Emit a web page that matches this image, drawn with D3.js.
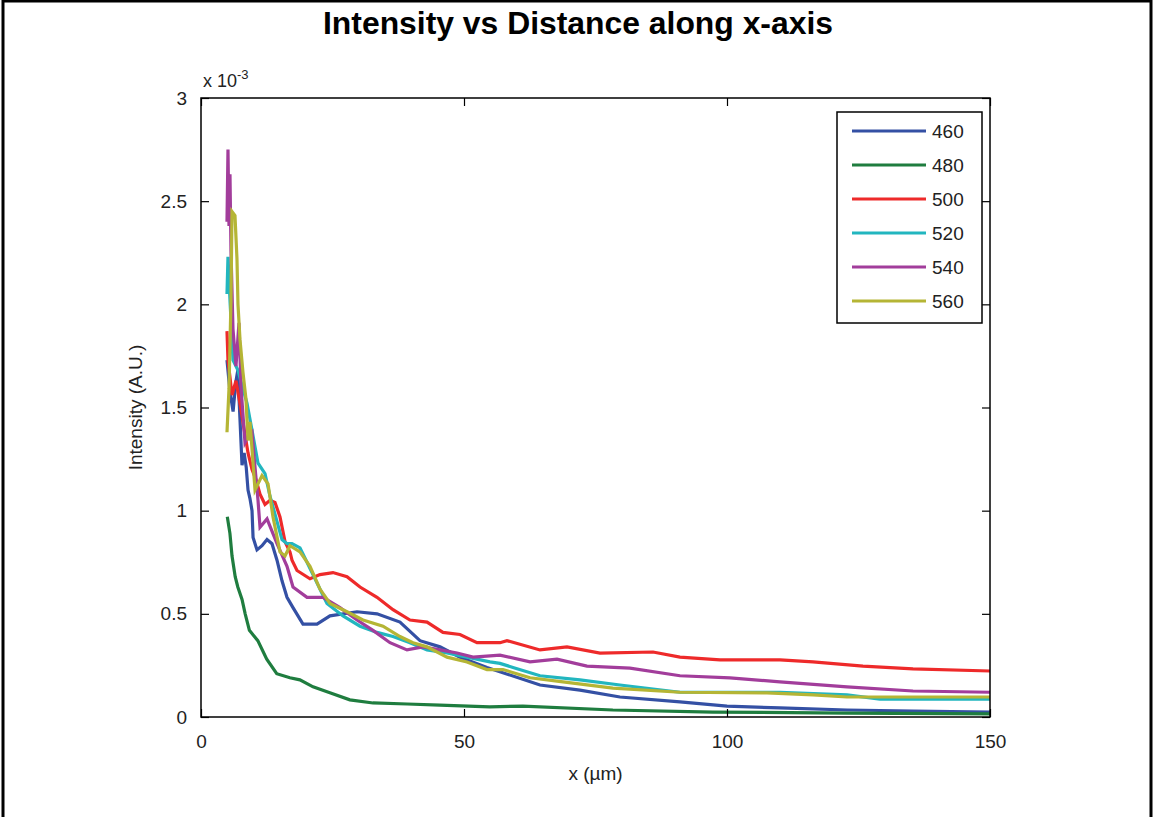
<!DOCTYPE html>
<html>
<head>
<meta charset="utf-8">
<script src="https://cdn.jsdelivr.net/npm/d3@7"></script>
<style>
  body { margin: 0; background: #fff; }
  svg { display: block; font-family: "Liberation Sans", Arial, sans-serif; }
</style>
</head>
<body>
<div id="chart"></div>
<script>
// Intensity values are in units of 1e-3 (A.U.), x in micrometres
var s460 = [[4.94,1.73],[5.5,1.58],[6.1,1.48],[6.6,1.62],[7.0,1.68],[7.4,1.45],[7.8,1.22],[8.2,1.28],[8.6,1.21],
  [8.94,1.10],[9.3,1.06],[9.7,1.00],[9.9,0.87],[10.65,0.81],[11.6,0.83],[12.55,0.86],[13.5,0.84],[14.45,0.76],
  [15.4,0.66],[16.35,0.58],[17.49,0.53],[19.39,0.45],[22.05,0.45],[24.52,0.49],[29.66,0.51],[33.46,0.50],
  [37.83,0.46],[41.63,0.37],[45.44,0.34],[49.24,0.29],[54.37,0.24],[64.45,0.155],[72.05,0.13],[79.65,0.097],
  [91.06,0.073],[100,0.053],[110.07,0.044],[122.81,0.034],[135.36,0.029],[150,0.024]];

var s480 = [[5.0,0.97],[5.5,0.89],[5.9,0.78],[6.5,0.68],[7.0,0.63],[7.8,0.57],[8.4,0.50],[9.2,0.42],[10.8,0.37],
  [12.5,0.28],[14.4,0.21],[16.9,0.19],[18.8,0.18],[21.3,0.146],[24.5,0.117],[28.3,0.083],[32.7,0.068],
  [39.2,0.063],[45.4,0.058],[54.9,0.049],[61.2,0.053],[78.3,0.034],[97.3,0.024],[122.8,0.019],[150,0.015]];

var s500 = [[4.94,1.87],[5.13,1.73],[5.9,1.56],[6.65,1.63],[7.41,1.52],[8.17,1.40],[8.94,1.28],[9.7,1.20],
  [10.46,1.15],[11.22,1.08],[12.17,1.03],[13.12,1.05],[14.07,1.04],[15.02,0.97],[15.97,0.85],[16.92,0.80],
  [17.3,0.76],[18.25,0.71],[20.72,0.67],[22.62,0.69],[25.09,0.70],[27.76,0.68],[30.23,0.63],[33.46,0.58],
  [36.5,0.52],[39.73,0.47],[42.97,0.46],[46.0,0.41],[49.24,0.40],[52.47,0.36],[56.84,0.36],[58.17,0.37],
  [64.45,0.325],[69.58,0.34],[75.85,0.31],[85.93,0.315],[91.06,0.29],[98.67,0.277],[110.07,0.277],
  [116.35,0.267],[125.85,0.247],[135.36,0.233],[150,0.223]];

var s520 = [[4.94,2.05],[5.13,2.23],[5.51,2.02],[6.08,1.73],[7.03,1.68],[7.98,1.59],[8.75,1.52],[9.7,1.39],
  [10.84,1.23],[12.17,1.18],[13.12,1.07],[15.40,0.86],[16.35,0.84],[17.30,0.84],[18.82,0.82],[19.2,0.80],
  [21.1,0.70],[23.0,0.60],[23.95,0.55],[27.0,0.49],[30.23,0.44],[33.46,0.41],[36.5,0.39],[39.73,0.36],
  [42.97,0.325],[46.77,0.31],[50.57,0.29],[54.94,0.267],[56.84,0.26],[59.31,0.24],[64.45,0.20],[72.05,0.18],
  [79.65,0.155],[91.06,0.12],[110.07,0.12],[122.81,0.107],[129.08,0.087],[150,0.087]];

var s540 = [[4.94,2.40],[5.13,2.75],[5.32,2.38],[5.51,2.63],[5.70,2.26],[6.08,1.88],[6.65,1.70],[7.22,1.91],
  [7.60,1.60],[8.36,1.33],[8.94,1.36],[9.70,1.38],[10.27,1.21],[10.84,1.05],[11.22,0.92],[12.55,0.96],
  [14.45,0.84],[16.35,0.73],[17.49,0.63],[20.15,0.58],[23.19,0.58],[26.43,0.53],[29.66,0.47],[32.70,0.42],
  [35.93,0.36],[39.16,0.325],[42.2,0.34],[45.44,0.325],[48.67,0.31],[51.71,0.29],[54.94,0.296],[56.84,0.30],
  [62.55,0.267],[67.68,0.28],[73.38,0.247],[81.55,0.237],[91.06,0.20],[100.57,0.19],[110.07,0.17],
  [122.81,0.146],[135.36,0.126],[150,0.12]];

var s560 = [[4.94,1.38],[5.32,1.59],[5.70,2.02],[5.89,2.45],[6.46,2.43],[6.84,2.22],[7.03,2.00],[7.41,1.83],
  [7.98,1.67],[8.55,1.54],[8.94,1.34],[9.32,1.43],[10.27,1.10],[11.60,1.17],[12.74,1.13],[13.69,0.97],
  [15.02,0.80],[15.97,0.78],[16.92,0.83],[18.82,0.80],[20.72,0.73],[22.62,0.62],[24.52,0.55],[27.76,0.51],
  [30.80,0.47],[34.60,0.44],[37.83,0.39],[40.30,0.36],[42.97,0.34],[46.77,0.29],[50.57,0.267],[54.37,0.23],
  [57.41,0.23],[62.55,0.19],[68.82,0.17],[78.32,0.14],[91.06,0.12],[107.6,0.117],[116.35,0.107],
  [122.81,0.097],[150,0.097]];

var seriesNames = ["460", "480", "500", "520", "540", "560"];
var seriesData = [s460, s480, s500, s520, s540, s560];
var seriesColors = ["#3450a4", "#1f7d3f", "#ee2a2a", "#22b6bf", "#a23d9b", "#b5b535"];

var xTicks = [0, 50, 100, 150];
var yTicks = [0, 0.5, 1, 1.5, 2, 2.5, 3];

var W = 1155, H = 817;
var margin = { top: 98, right: 165, bottom: 100, left: 201 };
var width = 990 - margin.left, height = 717 - margin.top;

var svg = d3.select("#chart").append("svg")
    .attr("width", W)
    .attr("height", H);

// outer frame (cut off at the bottom)
svg.append("rect")
    .attr("x", 3).attr("y", 1)
    .attr("width", 1148).attr("height", H + 20)
    .attr("fill", "none").attr("stroke", "#000").attr("stroke-width", 3);

// title, a bit condensed like the original
svg.append("text")
    .attr("x", 578).attr("y", 34)
    .attr("text-anchor", "middle")
    .attr("textLength", 510).attr("lengthAdjust", "spacingAndGlyphs")
    .style("font-size", "31px").style("font-weight", "bold")
    .text("Intensity vs Distance along x-axis");

var g = svg.append("g")
    .attr("transform", "translate(" + margin.left + "," + margin.top + ")");

var x = d3.scaleLinear().domain([0, 150]).range([0, width]);
var y = d3.scaleLinear().domain([0, 3]).range([height, 0]);

// series lines
var line = d3.line().x(d => x(d[0])).y(d => y(d[1]));
g.selectAll(".series")
    .data(seriesData)
    .enter()
    .append("path")
    .attr("class", "series")
    .attr("d", line)
    .attr("fill", "none")
    .attr("stroke", (d, i) => seriesColors[i])
    .attr("stroke-width", 3.2)
    .attr("stroke-linejoin", "miter");

// axes with inward ticks, box all round
function styleAxis(sel) {
    sel.select(".domain").remove();
    sel.selectAll("line").attr("stroke", "#000").attr("stroke-width", 1.2);
    sel.selectAll("text").style("font-size", "19px").attr("fill", "#222");
}

g.append("g").attr("transform", "translate(0," + height + ")")
    .call(d3.axisBottom(x).tickValues(xTicks).tickSizeInner(-8).tickSizeOuter(0).tickPadding(18).tickFormat(d3.format("d")))
    .call(styleAxis);
g.append("g")
    .call(d3.axisTop(x).tickValues(xTicks).tickSizeInner(-8).tickSizeOuter(0).tickFormat(""))
    .call(styleAxis);
g.append("g")
    .call(d3.axisLeft(y).tickValues(yTicks).tickSizeInner(-8).tickSizeOuter(0).tickPadding(14).tickFormat(d3.format("")))
    .call(styleAxis);
g.append("g").attr("transform", "translate(" + width + ",0)")
    .call(d3.axisRight(y).tickValues(yTicks).tickSizeInner(-8).tickSizeOuter(0).tickFormat(""))
    .call(styleAxis);

g.append("rect")
    .attr("width", width).attr("height", height)
    .attr("fill", "none").attr("stroke", "#000").attr("stroke-width", 1.5);

// exponent label
var expo = svg.append("text")
    .attr("x", 203).attr("y", 87)
    .style("font-size", "18px").attr("fill", "#222");
expo.append("tspan").text("x 10");
expo.append("tspan").attr("dy", -8).style("font-size", "13px").text("-3");

// axis labels
svg.append("text")
    .attr("x", margin.left + width / 2).attr("y", 780)
    .attr("text-anchor", "middle")
    .style("font-size", "19px").attr("fill", "#222")
    .text("x (\u00b5m)");

svg.append("text")
    .attr("transform", "translate(142," + (margin.top + height / 2) + ") rotate(-90)")
    .attr("text-anchor", "middle")
    .style("font-size", "19px").attr("fill", "#222")
    .text("Intensity (A.U.)");

// legend
var legend = svg.append("g").attr("transform", "translate(837,112)");
legend.append("rect")
    .attr("width", 145).attr("height", 211)
    .attr("fill", "#fff").attr("stroke", "#000").attr("stroke-width", 1.5);

var rows = legend.selectAll(".legend")
    .data(seriesNames)
    .enter()
    .append("g")
    .attr("class", "legend")
    .attr("transform", (d, i) => "translate(0," + (19 + i * 34) + ")");

rows.append("line")
    .attr("x1", 15).attr("x2", 89)
    .attr("stroke", (d, i) => seriesColors[i])
    .attr("stroke-width", 3);

rows.append("text")
    .attr("x", 95).attr("dy", "0.36em")
    .style("font-size", "19px").attr("fill", "#222")
    .text(d => d);
</script>
</body>
</html>
